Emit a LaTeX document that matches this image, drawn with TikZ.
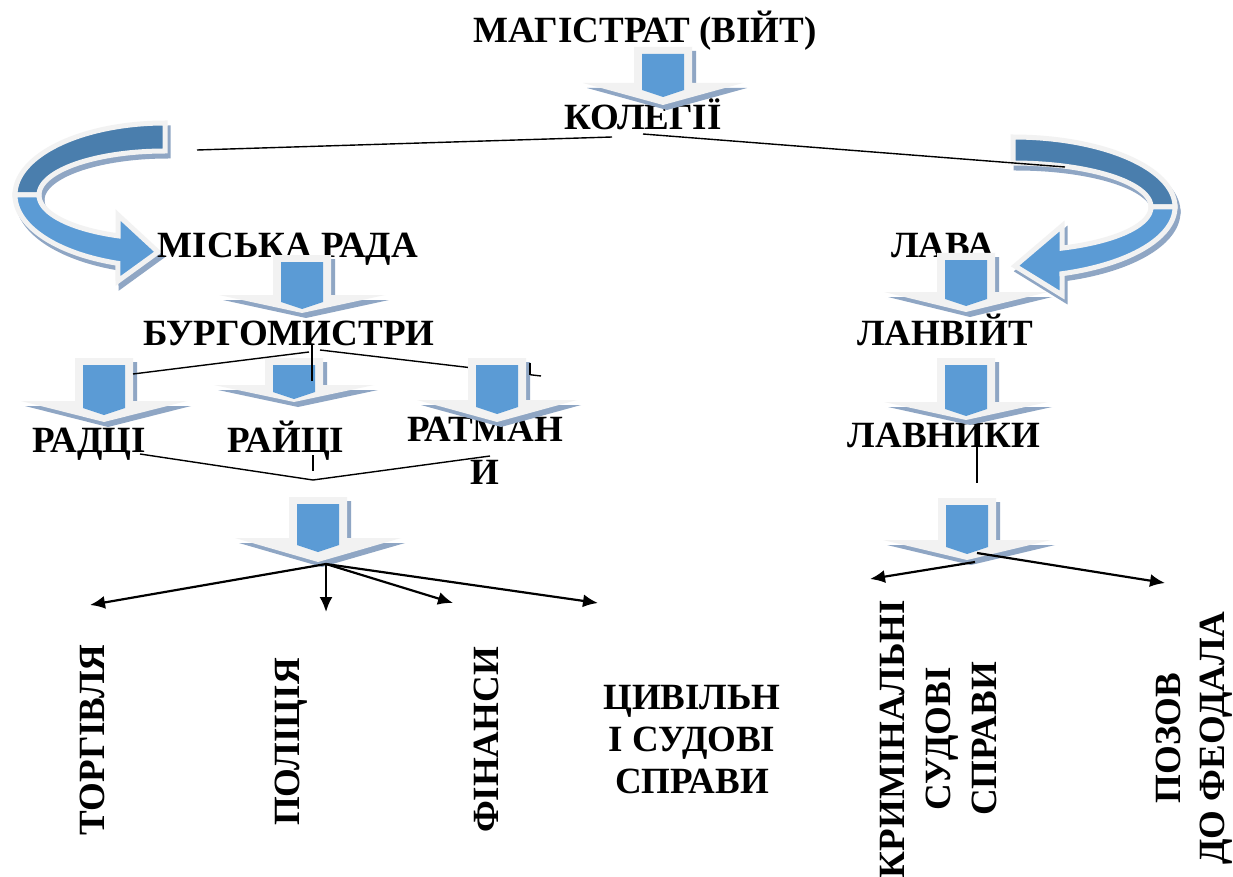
\documentclass[tikz,border=0pt]{standalone}
\usepackage{fontspec}
\setmainfont{Liberation Serif}
\usetikzlibrary{arrows.meta}
\definecolor{lgray}{RGB}{242,242,242}
\definecolor{ablue}{RGB}{91,155,213}
\definecolor{dblue}{RGB}{74,126,173}
\definecolor{shad}{RGB}{143,166,196}
% down arrow: #1 cx, #2 top, #3 stem height, #4 head depth, #5 head half width
\newcommand{\downarr}[5]{%
  \fill[shad] ({#1-29+4},{#2+4}) -- ({#1+29+4},{#2+4}) -- ({#1+29+4},{#2+#3+5}) -- ({#1+#5+4},{#2+#3+5}) -- ({#1+4},{#2+#3+#4+5}) -- ({#1-#5+4},{#2+#3+5}) -- ({#1-29+4},{#2+#3+5}) -- cycle;
  \fill[lgray] ({#1-29},{#2}) -- ({#1+29},{#2}) -- ({#1+29},{#2+#3}) -- ({#1+#5},{#2+#3}) -- ({#1},{#2+#3+#4}) -- ({#1-#5},{#2+#3}) -- ({#1-29},{#2+#3}) -- cycle;
  \fill[ablue] ({#1-21},{#2+7}) -- ({#1+21},{#2+7}) -- ({#1+21},{#2+#3+7}) -- ({#1},{#2+#3+14}) -- ({#1-21},{#2+#3+7}) -- cycle;
}
\tikzset{
  lbl/.style={font=\bfseries\fontsize{37}{42}\selectfont, inner sep=0pt},
  conn/.style={line width=1.4pt, black},
  arr/.style={line width=2.2pt, black, -{Latex[length=15pt,width=13pt]}},
  band/.style={draw=lgray, line width=5pt, line join=miter},
  bandshad/.style={draw=shad, fill=shad, line width=5pt}
}
\begin{document}
\begin{tikzpicture}[x=1pt,y=-1pt]
\useasboundingbox (0,0) rectangle (1233,877);
\fill[white] (0,0) rectangle (1233,877);

% ---------- curved arrows ----------
% left
\begin{scope}[shift={(3,5)}]
\path[bandshad] plot[domain=270:180,samples=40] ({165+150*cos(\x)},{195+72*sin(\x)}) -- plot[domain=180:270,samples=40] ({165+126*cos(\x)},{195+44*sin(\x)}) -- cycle;
\path[bandshad] plot[domain=180:108.3,samples=40] ({165+150*cos(\x)},{195+72*sin(\x)}) -- (118,281) -- (158,252) -- (118,215) -- plot[domain=111.9:180,samples=40] ({165+126*cos(\x)},{195+44*sin(\x)}) -- cycle;
\end{scope}
\path[band, fill=dblue] plot[domain=270:180,samples=40] ({165+150*cos(\x)},{195+72*sin(\x)}) -- plot[domain=180:270,samples=40] ({165+126*cos(\x)},{195+44*sin(\x)}) -- cycle;
\path[band, fill=ablue] plot[domain=180:108.3,samples=40] ({165+150*cos(\x)},{195+72*sin(\x)}) -- (118,281) -- (158,252) -- (118,215) -- plot[domain=111.9:180,samples=40] ({165+126*cos(\x)},{195+44*sin(\x)}) -- cycle;
% right
\begin{scope}[shift={(3,5)}]
\path[bandshad] plot[domain=270:360,samples=40] ({1013+162*cos(\x)},{207+70*sin(\x)}) -- plot[domain=360:270,samples=40] ({1013+138*cos(\x)},{207+44*sin(\x)}) -- cycle;
\path[bandshad] plot[domain=0:72.4,samples=40] ({1013+162*cos(\x)},{207+70*sin(\x)}) -- (1062,295) -- (1015,266) -- (1062,226) -- plot[domain=69.2:0,samples=40] ({1013+138*cos(\x)},{207+44*sin(\x)}) -- cycle;
\end{scope}
\path[band, fill=dblue] plot[domain=270:360,samples=40] ({1013+162*cos(\x)},{207+70*sin(\x)}) -- plot[domain=360:270,samples=40] ({1013+138*cos(\x)},{207+44*sin(\x)}) -- cycle;
\path[band, fill=ablue] plot[domain=0:72.4,samples=40] ({1013+162*cos(\x)},{207+70*sin(\x)}) -- (1062,295) -- (1015,266) -- (1062,226) -- plot[domain=69.2:0,samples=40] ({1013+138*cos(\x)},{207+44*sin(\x)}) -- cycle;

% ---------- texts ----------
\node[lbl, anchor=base] (mag) at (645,43) {МАГІСТРАТ (ВІЙТ)};
\node[lbl, anchor=base] (kol) at (643,130) {КОЛЕГІЇ};
\node[lbl, anchor=base] (mr) at (288,258) {МІСЬКА РАДА};
\node[lbl, anchor=base] (bur) at (289,345) {БУРГОМИСТРИ};
\node[lbl, anchor=base] (lava) at (943,258) {ЛАВА};
\node[lbl, anchor=base] (lanv) at (945,345) {ЛАНВІЙТ};
\node[lbl, anchor=base] (lavn) at (944,447) {ЛАВНИКИ};
\node[lbl, anchor=base] (radci) at (89,452) {РАДЦІ};
\node[lbl, anchor=base] (rajci) at (286,452) {РАЙЦІ};
\node[lbl, align=center, font=\bfseries\fontsize{37}{43}\selectfont] (ratm) at (485,451) {РАТМАН\\И};
\node[lbl, rotate=90, anchor=base] (torg) at (104,740) {ТОРГІВЛЯ};
\node[lbl, rotate=90, anchor=base] (pol) at (299,742) {ПОЛІЦІЯ};
\node[lbl, rotate=90, anchor=base] (fin) at (498,740) {ФІНАНСИ};
\node[lbl, align=center, font=\bfseries\fontsize{37}{42}\selectfont] (civ) at (692,740) {ЦИВІЛЬН\\І СУДОВІ\\СПРАВИ};
\node[lbl, rotate=90, align=center, font=\bfseries\fontsize{37}{46}\selectfont] (krim) at (938,739) {КРИМІНАЛЬНІ\\СУДОВІ\\СПРАВИ};
\node[lbl, rotate=90, align=center, font=\bfseries\fontsize{37}{44}\selectfont] (poz) at (1194,738) {ПОЗОВ\\ДО ФЕОДАЛА};

% ---------- coordinates ----------
\coordinate (kolL) at (612,137);
\coordinate (crvL) at (197,150);
\coordinate (kolR) at (643,134);
\coordinate (crvR) at (1065,167);
\coordinate (burT) at (312,345);
\coordinate (burB) at (312,381);
\coordinate (burLs) at (309,352);
\coordinate (radTop) at (133,374);
\coordinate (burRs) at (320,350);
\coordinate (ratTop) at (541,376);
\coordinate (tickA) at (530,363);
\coordinate (tickB) at (530,375);
\coordinate (radBot) at (140,454);
\coordinate (vBot) at (313,480);
\coordinate (ratBot) at (490,456);
\coordinate (rajBotA) at (313,455);
\coordinate (rajBotB) at (313,471);
\coordinate (lavA) at (977,440);
\coordinate (lavB) at (977,483);
\coordinate (t6) at (326,564);
\coordinate (e1) at (90,605);
\coordinate (e2) at (326,612);
\coordinate (e3) at (453,603);
\coordinate (e4) at (598,603);
\coordinate (t9a) at (975,562);
\coordinate (t9b) at (977,553);
\coordinate (e5) at (870,579);
\coordinate (e6) at (1165,583);

% line partly hidden by arrow
\draw[conn] (burRs) -- (ratTop);

% ---------- down arrows ----------
\downarr{663}{47}{36}{22}{80}
\downarr{302}{255}{40}{18}{83}
\downarr{104}{358}{43}{21}{83}
\downarr{294}{358}{27}{17}{80}
\downarr{497}{358}{42}{22}{80}
\downarr{318}{497}{41}{24}{83}
\downarr{966}{253}{39}{20}{82}
\downarr{966}{358}{44}{18}{82}
\downarr{967}{498}{42}{20}{84}

% ---------- connectors ----------
\draw[conn] (kolL) -- (crvL);
\draw[conn] (kolR) -- (crvR);
\draw[conn] (burT) -- (burB);
\draw[conn] (burLs) -- (radTop);
\draw[conn] (tickA) -- (tickB);
\draw[conn] (radBot) -- (vBot) -- (ratBot);
\draw[conn] (rajBotA) -- (rajBotB);
\draw[conn] (lavA) -- (lavB);
\draw[arr] (t6) -- (e1);
\draw[arr] (t6) -- (e2);
\draw[arr] (t6) -- (e3);
\draw[arr] (t6) -- (e4);
\draw[arr] (t9a) -- (e5);
\draw[arr] (t9b) -- (e6);
\end{tikzpicture}
\end{document}
